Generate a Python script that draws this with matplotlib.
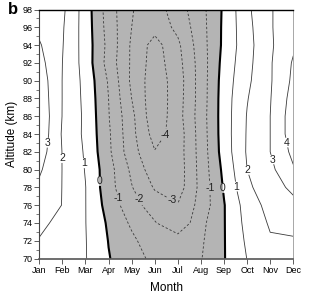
import numpy as np
import matplotlib
matplotlib.use("Agg")
import matplotlib.pyplot as plt
from matplotlib.ticker import MultipleLocator

plt.rcParams['font.family'] = ['Liberation Sans Narrow', 'Liberation Sans', 'DejaVu Sans']

months = np.arange(1, 13)
month_labels = ["Jan", "Feb", "Mar", "Apr", "May", "Jun",
                "Jul", "Aug", "Sep", "Oct", "Nov", "Dec"]
altitudes = np.arange(70, 100, 2)

# values, one row per altitude (70 .. 98 km), columns Jan..Dec
values = np.array([
    [1.70, 1.40, 1.05,  0.05, -0.60, -1.25, -1.50, -1.05, -0.05, 1.02, 1.60, 1.50],  # 70
    [1.95, 1.60, 1.04, -0.03, -0.80, -1.60, -1.50, -1.15, -0.05, 1.16, 1.90, 1.90],  # 72
    [2.20, 1.75, 1.02, -0.15, -1.16, -1.93, -2.80, -1.29, -0.05, 1.31, 2.11, 2.30],  # 74
    [2.50, 1.98, 1.02, -0.40, -1.60, -2.50, -2.95, -1.65, -0.05, 1.45, 2.35, 2.75],  # 76
    [2.80, 1.98, 1.02, -0.60, -1.95, -3.10, -3.50, -1.70,  0.10, 1.80, 2.60, 3.20],  # 78
    [3.15, 1.98, 0.95, -0.60, -2.20, -3.60, -3.55, -1.65,  0.25, 2.00, 2.75, 3.90],  # 80
    [3.50, 1.97, 0.88, -0.80, -2.60, -3.95, -3.50, -1.60,  0.45, 2.10, 3.00, 4.25],  # 82
    [3.75, 1.90, 0.80, -0.85, -2.70, -4.40, -3.55, -1.55,  0.50, 2.08, 3.00, 4.55],  # 84
    [3.80, 1.97, 0.80, -0.95, -2.75, -4.70, -3.40, -1.50,  0.50, 2.05, 3.00, 4.55],  # 86
    [3.70, 1.98, 0.75, -1.00, -3.00, -4.70, -3.45, -1.55,  0.50, 1.95, 2.95, 4.40],  # 88
    [3.60, 1.98, 0.70, -1.10, -3.20, -4.60, -3.50, -1.55,  0.45, 1.80, 2.90, 4.20],  # 90
    [3.35, 2.00, 0.60, -1.40, -3.15, -4.50, -3.35, -1.55,  0.35, 1.70, 2.90, 4.10],  # 92
    [3.10, 2.05, 0.57, -1.29, -3.15, -4.40, -3.20, -1.45,  0.22, 1.64, 2.85, 3.85],  # 94
    [2.75, 2.10, 0.55, -1.40, -3.00, -3.65, -2.75, -1.40,  0.20, 1.70, 2.90, 3.75],  # 96
    [2.60, 2.20, 0.53, -1.49, -2.95, -3.50, -2.46, -1.33,  0.16, 1.80, 2.92, 3.60],  # 98
])

neg_levels = [-4, -3, -2, -1]
pos_levels = [1, 2, 3, 4]

# where the contour labels sit (month, km)
neg_label_pos = [(4.41, 76.8), (5.27, 76.6), (6.75, 76.5), (6.52, 83.7), (8.44, 77.9)]
zero_label_pos = [(3.6, 78.7), (8.91, 77.9)]
pos_label_pos = [(1.42, 83.0), (1.97, 81.3), (2.84, 80.7), (9.55, 78.1),
                 (9.95, 79.9), (11.06, 81.1), (11.64, 83.0)]

fig = plt.figure(figsize=(3.12, 3.02), dpi=100)
ax = fig.add_axes([0.126, 0.144, 0.814, 0.8245])

X, Y = np.meshgrid(months, altitudes)
ax.contourf(X, Y, values, levels=[-100, 0], colors=['#b4b4b4'])

cs_neg = ax.contour(X, Y, values, levels=neg_levels, colors='#3a3a3a',
                    linewidths=0.6, linestyles=[(0, (2.8, 2.4))])
cs_pos = ax.contour(X, Y, values, levels=pos_levels, colors='#3a3a3a',
                    linewidths=0.6, linestyles='solid')
cs_zero = ax.contour(X, Y, values, levels=[0], colors='black',
                     linewidths=1.5, linestyles='solid')

labels = []
labels += ax.clabel(cs_neg, fmt='%d', manual=neg_label_pos, fontsize=7.5, inline_spacing=2)
labels += ax.clabel(cs_zero, fmt='%d', manual=zero_label_pos, fontsize=7.5, inline_spacing=2)
labels += ax.clabel(cs_pos, fmt='%d', manual=pos_label_pos, fontsize=7.5, inline_spacing=2)
for t in labels:
    t.set_rotation(0)
    t.set_color('#222222')

ax.set_xlim(1, 12)
ax.set_ylim(70, 98)
ax.set_xticks(months)
ax.set_xticklabels(month_labels)
ax.set_yticks(np.arange(70, 99, 2))
ax.yaxis.set_minor_locator(MultipleLocator(1))
ax.tick_params(axis='both', which='major', labelsize=6.5, direction='out', length=3.5,
               width=0.6, color='#444444')
ax.tick_params(axis='y', which='major', pad=1.5)
ax.tick_params(axis='x', which='major', pad=2)
ax.tick_params(axis='y', which='minor', direction='out', length=2, width=0.5, color='#444444')

ax.spines['top'].set_linewidth(1.0)
ax.spines['top'].set_color('black')
ax.spines['bottom'].set_linewidth(1.2)
ax.spines['bottom'].set_color('#555555')
ax.spines['left'].set_linewidth(0.8)
ax.spines['left'].set_color('#444444')
ax.spines['right'].set_linewidth(0.6)
ax.spines['right'].set_color('#999999')

ax.set_xlabel("Month", fontsize=8.5, labelpad=5)
ax.set_ylabel("Altitude (km)", fontsize=8.5, labelpad=3)
fig.text(0.026, 0.968, "b", fontsize=12, fontweight='bold', va='center', ha='left')

fig.savefig("out.png", dpi=100)
